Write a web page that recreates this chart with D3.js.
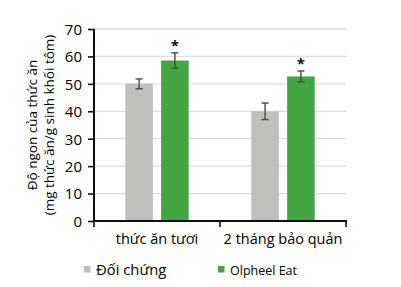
<!DOCTYPE html>
<html><head><meta charset="utf-8">
<script src="https://cdn.jsdelivr.net/npm/d3@7"></script>
<style>body{margin:0;background:#fff}svg{display:block}text{font-family:"Open Sans",sans-serif}</style>
</head><body>
<script>
const categories = ["thức ăn tươi", "2 tháng bảo quản"];
const series = ["Đối chứng", "Olpheel Eat"];
const controlValues = [50, 40];
const controlErrors = [1.8, 3.0];
const olpheelValues = [58.5, 52.7];
const olpheelErrors = [2.8, 2.0];
const significant = [true, true];
const yTicks = [0, 10, 20, 30, 40, 50, 60, 70];
const colors = ["#bfbfbc", "#45a545"];

const W = 401, H = 287;
const svg = d3.select("body").append("svg").attr("width", W).attr("height", H);

const y = d3.scaleLinear().domain([0, 70]).range([221, 29]);
const x0 = d3.scaleBand().domain(categories).range([94, 346]).padding(0);
const x1 = d3.scaleBand().domain(series).range([0, x0.bandwidth()]).paddingInner(0.23).paddingOuter(0.875);
const color = d3.scaleOrdinal().domain(series).range(colors);

// gridlines
svg.append("g").selectAll("line").data(yTicks.filter(d => d > 0)).join("line")
  .attr("x1", 94).attr("x2", 346).attr("y1", d => y(d)).attr("y2", d => y(d))
  .attr("stroke", "#dedede").attr("stroke-width", 1.3);

const rows = [];
categories.forEach((c, i) => {
  rows.push({cat: c, s: series[0], v: controlValues[i], e: controlErrors[i], sig: false});
  rows.push({cat: c, s: series[1], v: olpheelValues[i], e: olpheelErrors[i], sig: significant[i]});
});

svg.append("g").selectAll("rect").data(rows).join("rect")
  .attr("x", d => x0(d.cat) + x1(d.s)).attr("width", x1.bandwidth())
  .attr("y", d => y(d.v)).attr("height", d => y(0) - y(d.v))
  .attr("fill", d => color(d.s));

// error bars
const eb = svg.append("g").attr("stroke", "#4a4a4a").attr("stroke-width", 1.4).attr("fill", "none");
rows.forEach(d => {
  const cx = x0(d.cat) + x1(d.s) + x1.bandwidth() / 2;
  eb.append("line").attr("x1", cx).attr("x2", cx).attr("y1", y(d.v + d.e)).attr("y2", y(d.v - d.e));
  eb.append("line").attr("x1", cx - 3.5).attr("x2", cx + 3.5).attr("y1", y(d.v + d.e)).attr("y2", y(d.v + d.e));
  eb.append("line").attr("x1", cx - 3.5).attr("x2", cx + 3.5).attr("y1", y(d.v - d.e)).attr("y2", y(d.v - d.e));
  if (d.sig) {
    svg.append("text").attr("x", cx).attr("y", y(d.v + d.e) - 2)
      .attr("text-anchor", "middle").attr("font-size", 15).attr("font-weight", "bold")
      .attr("fill", "#111").text("*");
  }
});

// y axis
const yAxis = d3.axisLeft(y).tickValues(yTicks).tickSize(6).tickPadding(6);
const gy = svg.append("g").attr("transform", "translate(94,0)").call(yAxis);
gy.select(".domain").attr("stroke", "#111").attr("stroke-width", 2).attr("d", "M0,29V221");
gy.selectAll(".tick line").attr("stroke", "#111").attr("stroke-width", 1.6);
gy.selectAll(".tick text").attr("font-size", 15).attr("fill", "#000").attr("font-family", "Open Sans").attr("dy", "0.36em");

// x axis
svg.append("line").attr("x1", 93).attr("x2", 347).attr("y1", 221).attr("y2", 221)
  .attr("stroke", "#111").attr("stroke-width", 2);
svg.append("g").selectAll("line").data([94, ...categories.map(c => x0(c) + x0.bandwidth())]).join("line")
  .attr("x1", d => d).attr("x2", d => d).attr("y1", 221).attr("y2", 227)
  .attr("stroke", "#111").attr("stroke-width", 1.6);
svg.append("g").selectAll("text").data(categories).join("text")
  .attr("x", c => x0(c) + x0.bandwidth() / 2).attr("y", 244)
  .attr("text-anchor", "middle").attr("font-size", 14.5).attr("fill", "#000").text(c => c);

// y title
const yt = svg.append("text").attr("transform", "translate(37,125) rotate(-90)")
  .attr("text-anchor", "middle").attr("font-size", 13.5).attr("fill", "#000");
yt.append("tspan").attr("x", 0).attr("dy", 0).text("Độ ngon của thức ăn");
yt.append("tspan").attr("x", 0).attr("dy", 17).text("(mg thức ăn/g sinh khối tôm)");

// legend
const leg = [{s: series[0], x: 84, size: 14.8}, {s: series[1], x: 218, size: 12.5}];
leg.forEach(l => {
  svg.append("rect").attr("x", l.x).attr("y", 266).attr("width", 6.5).attr("height", 6.5).attr("fill", color(l.s));
  svg.append("text").attr("x", l.x + 12).attr("y", 274.5).attr("font-size", l.size).attr("fill", "#000").text(l.s);
});
</script>
</body></html>
